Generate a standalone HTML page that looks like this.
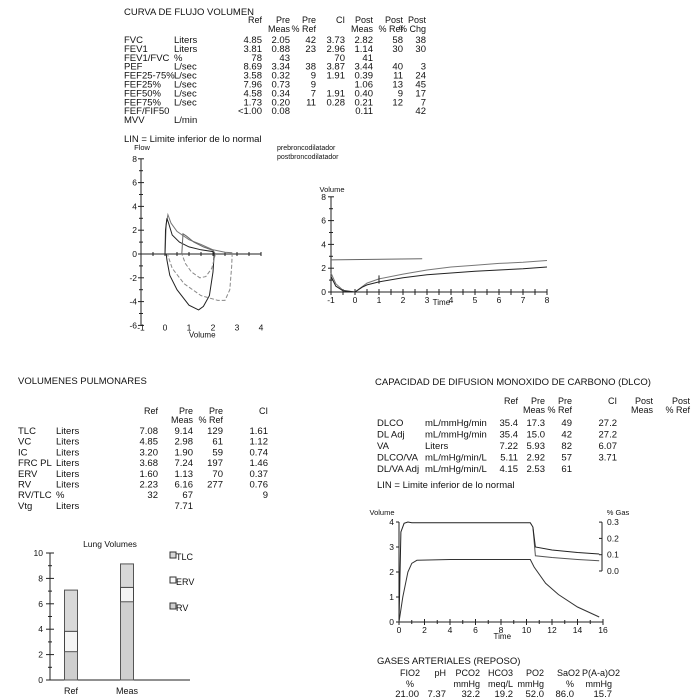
<!DOCTYPE html>
<html><head><meta charset="utf-8"><style>
html,body{margin:0;padding:0;background:#fff;width:695px;height:700px;overflow:hidden}
svg{display:block;font-family:"Liberation Sans",sans-serif;}
text{fill:#111;font-size:9.5px}
</style></head><body>
<svg id="s" width="695" height="700" viewBox="0 0 695 700" xmlns="http://www.w3.org/2000/svg"></svg>
<script>
// ---- data ----
const fvCols=["Ref","Pre","Pre","CI","Post","Post","Post"];
const fvCols2=["","Meas","% Ref","","Meas","% Ref","% Chg"];
const fvLabels=["FVC","FEV1","FEV1/FVC","PEF","FEF25-75%","FEF25%","FEF50%","FEF75%","FEF/FIF50","MVV"];
const fvUnits=["Liters","Liters","%","L/sec","L/sec","L/sec","L/sec","L/sec","","L/min"];
const fvVals=[
["4.85","2.05","42","3.73","2.82","58","38"],
["3.81","0.88","23","2.96","1.14","30","30"],
["78","43","","70","41","",""],
["8.69","3.34","38","3.87","3.44","40","3"],
["3.58","0.32","9","1.91","0.39","11","24"],
["7.96","0.73","9","","1.06","13","45"],
["4.58","0.34","7","1.91","0.40","9","17"],
["1.73","0.20","11","0.28","0.21","12","7"],
["<1.00","0.08","","","0.11","","42"],
["","","","","","",""]];
const lvCols=["Ref","Pre","Pre","CI"];
const lvCols2=["","Meas","% Ref",""];
const lvLabels=["TLC","VC","IC","FRC PL","ERV","RV","RV/TLC","Vtg"];
const lvUnits=["Liters","Liters","Liters","Liters","Liters","Liters","%","Liters"];
const lvVals=[["7.08","9.14","129","1.61"],["4.85","2.98","61","1.12"],["3.20","1.90","59","0.74"],["3.68","7.24","197","1.46"],["1.60","1.13","70","0.37"],["2.23","6.16","277","0.76"],["32","67","","9"],["","7.71","",""]];
const dlCols=["Ref","Pre","Pre","CI","Post","Post"];
const dlCols2=["","Meas","% Ref","","Meas","% Ref"];
const dlLabels=["DLCO","DL Adj","VA","DLCO/VA","DL/VA Adj"];
const dlUnits=["mL/mmHg/min","mL/mmHg/min","Liters","mL/mHg/min/L","mL/mHg/min/L"];
const dlVals=[["35.4","17.3","49","27.2","",""],["35.4","15.0","42","27.2","",""],["7.22","5.93","82","6.07","",""],["5.11","2.92","57","3.71","",""],["4.15","2.53","61","","",""]];
const gasH1=["FIO2","pH","PCO2","HCO3","PO2","SaO2","P(A-a)O2"];
const gasH2=["%","","mmHg","meq/L","mmHg","%","mmHg"];
const gasVals=["21.00","7.37","32.2","19.2","52.0","86.0","15.7"];
// flow-volume
const fvPreExp=[[0,0],[0.02,2.0],[0.08,3.0],[0.15,2.6],[0.3,1.6],[0.6,1.0],[1.0,0.6],[1.5,0.35],[2.0,0.2],[2.05,0]];
const fvPreInsp=[[2.05,0],[2.0,-1.5],[1.85,-3.5],[1.6,-4.4],[1.4,-4.7],[1.0,-4.3],[0.5,-3.0],[0.2,-1.8],[0.08,-0.5],[0.05,0]];
const fvPostExp=[[0,0],[0.05,2.5],[0.12,3.3],[0.25,2.6],[0.5,1.9],[1.0,1.2],[1.5,0.8],[2.0,0.35],[2.5,0.15],[2.8,0.1]];
const fvPostInsp=[[2.8,0.1],[2.78,-1],[2.7,-3.0],[2.5,-3.9],[2.2,-3.9],[1.5,-3.5],[0.8,-2.5],[0.3,-1.2],[0.1,0]];
const fvInnerExp=[[0.7,0],[0.75,1.7],[0.9,1.5],[1.2,1.0],[1.6,0.6],[2.0,0.3],[2.1,0]];
const fvInnerInsp=[[2.1,0],[1.95,-1.2],[1.7,-1.9],[1.45,-2.0],[1.1,-1.5],[0.85,-0.8],[0.7,0]];
// volume-time
const vtPre=[[-1,1.3],[-0.8,0.5],[-0.5,0.1],[0,0],[0.3,0.4],[0.5,0.6],[1,0.85],[2,1.2],[3,1.45],[4,1.6],[5,1.75],[6,1.85],[7,1.95],[8,2.1]];
const vtPost=[[-1,1.6],[-0.8,0.7],[-0.5,0.15],[0,0],[0.5,0.75],[1,1.1],[2,1.5],[3,1.85],[4,2.1],[5,2.25],[6,2.4],[7,2.5],[8,2.65]];
const vtRef=[[-1,2.7],[2.8,2.8]];
// lung volume bars
const barCats=["Ref","Meas"];
const barRV=[2.23,6.16];
const barERV=[1.60,1.13];
const barTLC=[7.08,9.14];
// DLCO trace
const dlTop=[[0,0],[0.15,3.6],[0.4,3.95],[0.7,4.0],[1,3.97],[2,3.97],[10.3,3.97],[10.5,3.8],[10.7,3.0],[12,2.88],[14,2.78],[15.7,2.72]];
const dlMid=[[10.5,3.8],[10.7,2.65],[12,2.58],[14,2.5],[15.7,2.45]];
const dlBot=[[0,0],[0.3,1.0],[0.7,2.0],[1.0,2.35],[1.4,2.47],[4,2.5],[10.3,2.5],[10.6,2.2],[11.5,1.55],[12.5,1.1],[14,0.6],[15.7,0.2]];

const NS="http://www.w3.org/2000/svg";
const S=document.getElementById('s');
function mk(tag,attrs,name){const e=document.createElementNS(NS,tag);for(const k in attrs)e.setAttribute(k,attrs[k]);


S.appendChild(e);return e;}
function txt(x,y,s,anchor,size,name){const e=mk('text',{x:x,y:y,'text-anchor':anchor||'start'},name);if(size)e.style.fontSize=size+'px';e.textContent=s;return e;}
function line(x1,y1,x2,y2,name,st){return mk('line',{x1:x1,y1:y1,x2:x2,y2:y2,stroke:st||'#222','stroke-width':1},name);}
function poly(pts,sx,sy,col,name,dash){const d=pts.map(p=>sx(p[0]).toFixed(1)+','+sy(p[1]).toFixed(1)).join(' ');
const o={points:d,fill:'none',stroke:col,'stroke-width':1};if(dash)o['stroke-dasharray']=dash;return mk('polyline',o,name);}

// ---- flow volume table ----
txt(124,15,"CURVA DE FLUJO VOLUMEN","start",9.5,"flow-volume-title");
const fvX=[262,290,316,345,373,403,426];
fvCols.forEach((c,i)=>{txt(fvX[i],23,c,"end",9,"fv-header");txt(fvX[i],32,fvCols2[i],"end",9,"fv-header-2");});
fvLabels.forEach((l,r)=>{const y=43+r*8.9;txt(124,y,l,"start",9.5,"fv-row-label");txt(174,y,fvUnits[r],"start",9.5,"fv-row-unit");
fvVals[r].forEach((v,i)=>{if(v)txt(fvX[i],y,v,"end",9.5,"fv-value");});});
txt(124,142,"LIN = Limite inferior de lo normal","start",9.5,"lin-note");
txt(277,150,"prebroncodilatador","start",7,"legend-pre");
txt(277,159,"postbroncodilatador","start",7,"legend-post");

// ---- flow volume chart ----
const fx=v=>165+v*24, fy=v=>254-v*11.9;
line(fx(-1),fy(8),fx(-1),fy(-6),"fv-y-axis");
line(fx(-1),fy(0),fx(4),fy(0),"fv-x-axis");
for(let v=-6;v<=8;v++){line(fx(-1)-(v%2?2:3),fy(v),fx(-1)+(v%2?2:3),fy(v),"fv-y-tick");if(v%2===0)txt(fx(-1)-4,fy(v)+3,String(v),"end",8.5,"fv-y-tick-label");}
for(let v=-1;v<=4;v+=0.5){line(fx(v),fy(0)-2,fx(v),fy(0)+2,"fv-x-tick");}
[-1,0,1,2,3,4].forEach(v=>txt(fx(v),fy(-6)+5,String(v),"middle",8.5,"fv-x-tick-label"));
txt(fx(-1)+1,fy(8)-9,"Flow","middle",7.5,"fv-y-title");
txt(fx(1.55),fy(-6)+12,"Volume","middle",8,"fv-x-title");
poly(fvPostExp,fx,fy,'#777',"fv-post-expiratory");
poly(fvPreExp,fx,fy,'#222',"fv-pre-expiratory");
poly(fvPreInsp,fx,fy,'#222',"fv-pre-inspiratory");
poly(fvPostInsp,fx,fy,'#888',"fv-post-inspiratory","4,2");
poly(fvInnerExp,fx,fy,'#666',"fv-inner-expiratory");
poly(fvInnerInsp,fx,fy,'#888',"fv-inner-inspiratory","4,2");

// ---- volume time chart ----
const tx=v=>355+v*24, ty=v=>292-v*11.9;
line(tx(-1),ty(8),tx(-1),ty(0),"vt-y-axis");
line(tx(-1),ty(0),tx(8),ty(0),"vt-x-axis");
for(let v=0;v<=8;v++){line(tx(-1)-(v%2?2:3),ty(v),tx(-1)+(v%2?2:3),ty(v),"vt-y-tick");if(v%2===0)txt(tx(-1)-5,ty(v)+3,String(v),"end",8.5,"vt-y-tick-label");}
for(let v=-1;v<=8;v+=0.5){line(tx(v),ty(0)-3,tx(v),ty(0)+3,"vt-x-tick");}
for(let v=-1;v<=8;v++){txt(tx(v),ty(0)+11,String(v),"middle",8.5,"vt-x-tick-label");}
txt(tx(-1)+1,ty(8)-5,"Volume","middle",7.5,"vt-y-title");
txt(tx(3.6),ty(0)+13,"Time","middle",8,"vt-x-title");
poly(vtRef,tx,ty,'#666',"vt-ref-line");
poly(vtPost,tx,ty,'#777',"vt-post-curve");
poly(vtPre,tx,ty,'#222',"vt-pre-curve");
line(tx(1),ty(0.7),tx(1),ty(1.4),"vt-marker");

// ---- lung volumes table ----
txt(18,384,"VOLUMENES PULMONARES","start",9.5,"lung-volumes-title");
const lvX=[158,193,223,268];
lvCols.forEach((c,i)=>{txt(lvX[i],414,c,"end",9,"lv-header");txt(lvX[i],423,lvCols2[i],"end",9,"lv-header-2");});
lvLabels.forEach((l,r)=>{const y=434+r*10.7;txt(18,y,l,"start",9.5,"lv-row-label");txt(56,y,lvUnits[r],"start",9.5,"lv-row-unit");
lvVals[r].forEach((v,i)=>{if(v)txt(lvX[i],y,v,"end",9.5,"lv-value");});});

// ---- lung volumes bar chart ----
const bx=[71,127], by=v=>680-v*12.7, bw=13;
line(50,by(10),50,by(0),"bar-y-axis");
line(50,by(0),190,by(0),"bar-x-axis");
for(let v=0;v<=10;v++){line(v%2?48:46,by(v),v%2?52:54,by(v),"bar-y-tick");if(v%2===0)txt(43,by(v)+3,String(v),"end",8.5,"bar-y-tick-label");}
txt(110,547,"Lung Volumes","middle",8.5,"bar-chart-title");
barCats.forEach((c,i)=>{const x=bx[i]-bw/2;
mk('rect',{x:x,y:by(barTLC[i]),width:bw,height:by(0)-by(barTLC[i]),fill:'#d8d8d8',stroke:'#555','stroke-width':1},"bar-tlc-"+c.toLowerCase());
mk('rect',{x:x,y:by(barRV[i]+barERV[i]),width:bw,height:by(0)-by(barRV[i]+barERV[i]),fill:'#f4f4f4',stroke:'#444','stroke-width':1},"bar-erv-"+c.toLowerCase());
mk('rect',{x:x,y:by(barRV[i]),width:bw,height:by(0)-by(barRV[i]),fill:'#cfcfcf',stroke:'#555','stroke-width':1},"bar-rv-"+c.toLowerCase());
txt(bx[i],694,c,"middle",9,"bar-x-label");});
[["TLC",'#d8d8d8',557],["ERV",'#fafafa',582],["RV",'#cfcfcf',608]].forEach(l=>{
mk('rect',{x:170,y:l[2]-5,width:6,height:6,fill:l[1],stroke:'#333','stroke-width':1},"legend-swatch");
txt(176,l[2]+3,l[0],"start",9,"legend-entry");});

// ---- DLCO table ----
txt(375,385,"CAPACIDAD DE DIFUSION MONOXIDO DE CARBONO (DLCO)","start",9.5,"dlco-title");
const dlX=[518,545,572,617,653,690];
dlCols.forEach((c,i)=>{txt(dlX[i],404,c,"end",9,"dl-header");txt(dlX[i],413,dlCols2[i],"end",9,"dl-header-2");});
dlLabels.forEach((l,r)=>{const y=426+r*11.5;txt(377,y,l,"start",9.5,"dl-row-label");txt(425,y,dlUnits[r],"start",9.5,"dl-row-unit");
dlVals[r].forEach((v,i)=>{if(v)txt(dlX[i],y,v,"end",9.5,"dl-value");});});
txt(377,488,"LIN = Limite inferior de lo normal","start",9.5,"dl-lin-note");

// ---- DLCO chart ----
const dx=v=>399+v*12.75, dy=v=>622-v*25, gy=v=>571-v*163;
line(dx(0),dy(4),dx(0),dy(0),"dl-y-axis");
line(dx(0),dy(0),dx(16),dy(0),"dl-x-axis");
for(let v=0;v<=4;v++){line(dx(0)-3,dy(v),dx(0),dy(v),"dl-y-tick");txt(dx(0)-5,dy(v)+3,String(v),"end",8.5,"dl-y-tick-label");}
for(let v=0;v<=16;v++){line(dx(v),dy(0)-(v%2?2:3),dx(v),dy(0)+(v%2?2:3),"dl-x-tick");if(v%2===0)txt(dx(v),dy(0)+11,String(v),"middle",8.5,"dl-x-tick-label");}
txt(dx(8.1),dy(0)+17,"Time","middle",8,"dl-x-title");
txt(382,515,"Volume","middle",7.5,"dl-y-title");
line(602,gy(0.3),602,gy(0),"dl-gas-axis");
[0,0.1,0.2,0.3].forEach(v=>{line(599,gy(v),602,gy(v),"dl-gas-tick");txt(607,gy(v)+3,v.toFixed(1),"start",8.5,"dl-gas-tick-label");});
txt(618,515,"% Gas","middle",7.5,"dl-gas-title");
poly(dlMid,dx,dy,'#555',"dl-gas-trace");
poly(dlTop,dx,dy,'#222',"dl-volume-trace");
poly(dlBot,dx,dy,'#333',"dl-lower-trace");

// ---- gases ----
txt(377,664,"GASES ARTERIALES (REPOSO)","start",9.5,"gases-title");
const gX=[419,446,480,513,544,574,612];
const gHX=[419,446,480,513,544,580,620];
gasH1.forEach((h,i)=>{
txt(i===0?410:gHX[i],676,h,i===0?"middle":"end",9,"gas-header");
txt(i===0?410:gX[i],687,gasH2[i],i===0?"middle":"end",9,"gas-unit");
txt(gX[i],697,gasVals[i],"end",9.5,"gas-value");});
</script>
</body></html>
